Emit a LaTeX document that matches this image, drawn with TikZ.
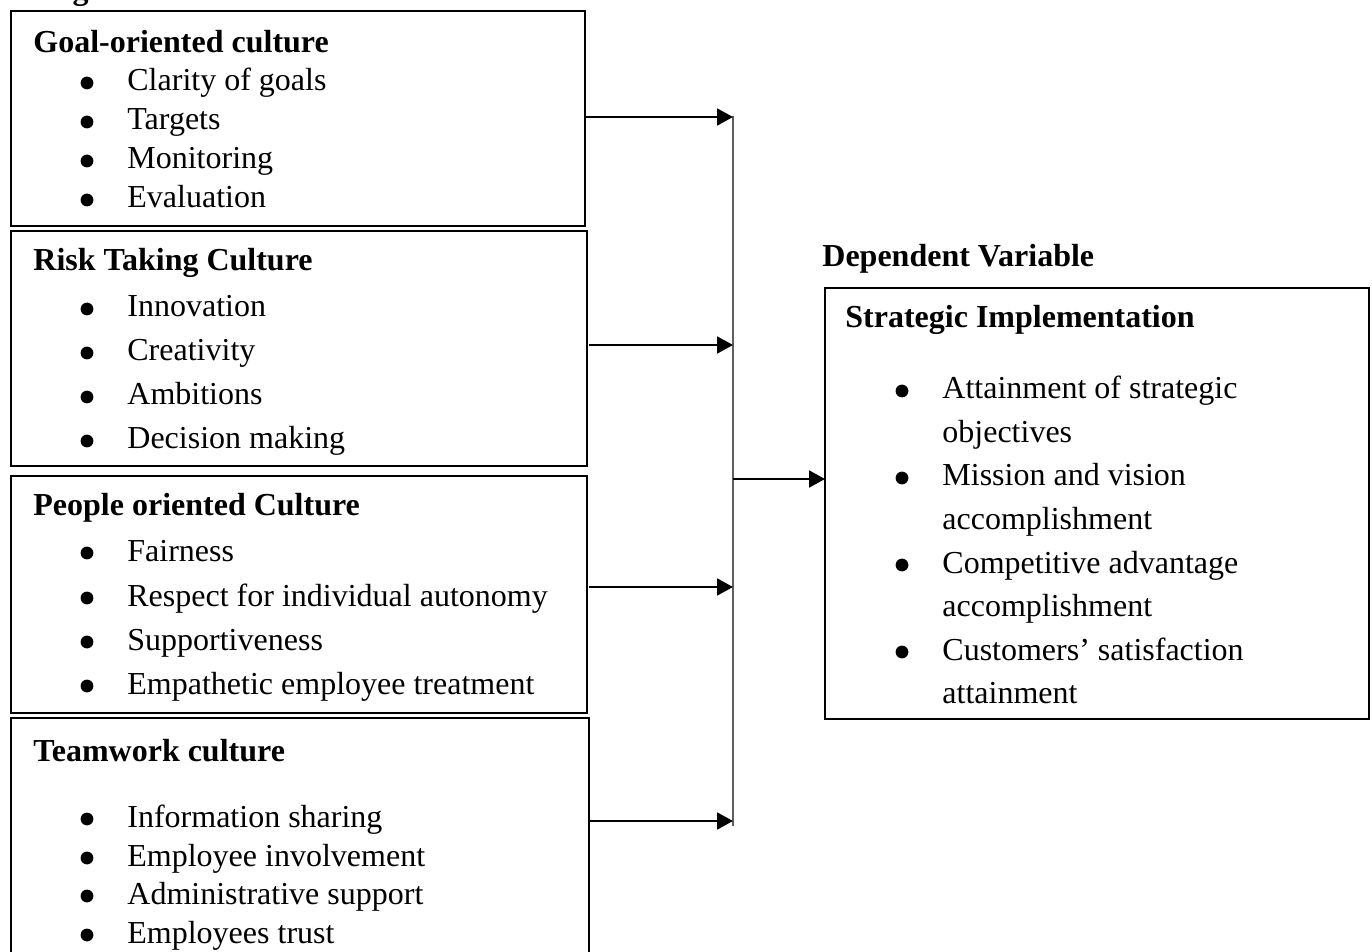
\documentclass[tikz,border=0pt]{standalone}
\usepackage{fontspec}
\setmainfont{Liberation Serif}
\usetikzlibrary{arrows.meta}
\begin{document}
\begin{tikzpicture}[x=0.5pt,y=-0.5pt,
  box/.style={draw,line width=1pt,rectangle,inner sep=0pt,outer sep=0pt,anchor=north west},
  ttl/.style={anchor=base west,inner sep=0pt,font=\fontsize{16pt}{19pt}\selectfont\bfseries},
  itm/.style={anchor=base west,inner sep=0pt,font=\fontsize{16pt}{19pt}\selectfont},
  arr/.style={line width=1pt,-{Triangle[length=8pt,width=8.5pt]}},
  bul/.style={circle,fill,inner sep=0pt,outer sep=0pt,minimum size=6.4pt},
  vline/.style={line width=0.6pt,draw={rgb,255:red,95;green,95;blue,95}}]
\useasboundingbox (0,0) rectangle (1372,952);
\begin{scope}
\clip (0,0) rectangle (1372,952);
% heading (cut off at top, as in the reference)
\node[ttl] (head) at (33,0) {Organizational Culture};
% boxes
\node[box,minimum width=287pt,minimum height=107.5pt] (b1) at (11,11) {};
\node[box,minimum width=288pt,minimum height=117.5pt] (b2) at (11,231) {};
\node[box,minimum width=288pt,minimum height=118.5pt] (b3) at (11,476) {};
\node[box,minimum width=289pt,minimum height=121pt] (b4) at (11,718) {};
\node[box,minimum width=272pt,minimum height=215.5pt] (rb) at (825,288) {};
% titles
\node[ttl] (t1) at (33,53) {Goal-oriented culture};
\node[ttl] (t2) at (33,271) {Risk Taking Culture};
\node[ttl] (t3) at (33,516) {People oriented Culture};
\node[ttl] (t4) at (33,761) {Teamwork culture};
\node[ttl] (dv) at (822,267) {Dependent Variable};
\node[ttl] (t5) at (845,328) {Strategic Implementation};
% items box 1
\foreach \yy/\tx [count=\i] in {91/Clarity of goals,130/Targets,169/Monitoring,208/Evaluation}{
  \node[bul] (ga\i) at (87,\yy-8) {};
  \node[itm] (g\i) at (127,\yy) {\tx};
}
% items box 2
\foreach \yy/\tx [count=\i] in {317/Innovation,361/Creativity,405/Ambitions,449/Decision making}{
  \node[bul] (ra\i) at (87,\yy-8) {};
  \node[itm] (r\i) at (127,\yy) {\tx};
}
% items box 3
\foreach \yy/\tx [count=\i] in {561/Fairness,606/Respect for individual autonomy,650/Supportiveness,694/Empathetic employee treatment}{
  \node[bul] (pa\i) at (87,\yy-8) {};
  \node[itm] (p\i) at (127,\yy) {\tx};
}
% items box 4
\foreach \yy/\tx [count=\i] in {827/Information sharing,866/Employee involvement,904/Administrative support,943/Employees trust}{
  \node[bul] (wa\i) at (87,\yy-8) {};
  \node[itm] (w\i) at (127,\yy) {\tx};
}
% right box items
\foreach \yy [count=\i] in {399,486,573,660}{
  \node[bul] (sa\i) at (902,\yy-8) {};
}
\foreach \yy/\tx [count=\i] in {399/Attainment of strategic,442.5/objectives,486/Mission and vision,529.5/accomplishment,573/Competitive advantage,616.5/accomplishment,660/Customers’ satisfaction,703.5/attainment}{
  \node[itm] (s\i) at (942,\yy) {\tx};
}
% connectors
\coordinate (v1) at (733,117);
\coordinate (v2) at (733,345);
\coordinate (v3) at (733,587);
\coordinate (v4) at (733,821);
\coordinate (vtop) at (733,116);
\coordinate (vbot) at (733,826);
\coordinate (vmid) at (733,479);
\draw[vline] (vtop) -- (vbot);
\draw[arr] (b1.east |- v1) -- (v1);
\draw[arr] ([xshift=1pt]b2.east |- v2) -- (v2);
\draw[arr] ([xshift=1pt]b3.east |- v3) -- (v3);
\draw[arr] (b4.east |- v4) -- (v4);
\draw[arr] (vmid) -- (rb.west |- vmid);
\end{scope}
\end{tikzpicture}
\end{document}
